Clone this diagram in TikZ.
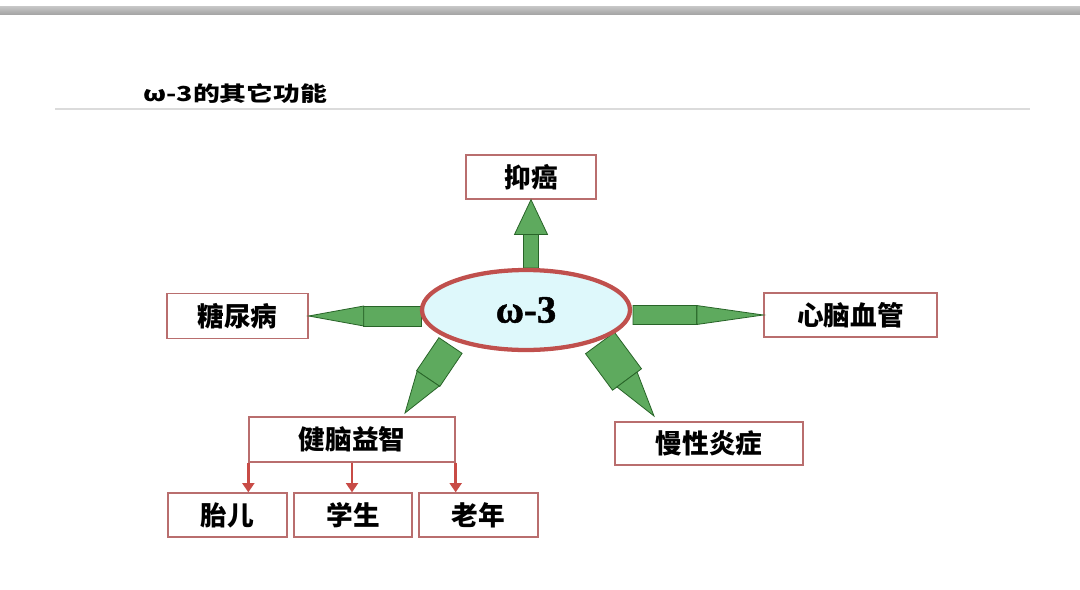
\documentclass[tikz,border=0pt]{standalone}
\usepackage{fontspec}
\setmainfont{Liberation Serif}
\newfontfamily\cjk{Noto Sans CJK SC}
\newfontfamily\titlefont[FakeStretch=1.3]{Noto Sans CJK SC}
\newfontfamily\serifb[BoldFeatures={FakeBold=1.2}]{Liberation Serif}
\usetikzlibrary{shapes.geometric,arrows.meta,calc}
\definecolor{gfill}{RGB}{94,170,94}
\definecolor{gline}{RGB}{40,100,40}
\definecolor{ellfill}{RGB}{222,248,251}
\definecolor{ellline}{RGB}{192,80,77}
\definecolor{boxline}{RGB}{185,110,110}
\definecolor{redarr}{RGB}{200,75,70}
\tikzset{
  boxnode/.style={draw=boxline, line width=1pt, fill=white, inner sep=0pt,
    font=\cjk\bfseries\fontsize{20}{20}\selectfont},
  greenpart/.style={fill=gfill, draw=gline, line width=0.6pt, line join=miter},
  redconn/.style={draw=redarr, line width=1.8pt, -{Triangle[width=9pt,length=7pt]}}
}
% #1 start, #2 tip, #3 fraction of shaft, #4 shaft half width, #5 head half width
\newcommand{\garrow}[5]{%
  \path (#1) coordinate (gaS) (#2) coordinate (gaT) ($(gaS)!#3!(gaT)$) coordinate (gaM);
  \filldraw[greenpart] ($(gaS)!#4!90:(gaT)$) -- ($(gaM)!#4!90:(gaT)$)
     -- ($(gaM)!#4!-90:(gaT)$) -- ($(gaS)!#4!-90:(gaT)$) -- cycle;
  \filldraw[greenpart] ($(gaM)!#5!90:(gaT)$) -- (gaT) -- ($(gaM)!#5!-90:(gaT)$) -- cycle;
}
\begin{document}
\begin{tikzpicture}[x=0.75pt, y=-0.75pt]
\useasboundingbox (0,0) rectangle (1080,589);
\fill[white] (0,0) rectangle (1080,589);
% top bar
\shade[top color=gray!45, bottom color=gray!70] (0,6.5) rectangle (1080,14);
% title
\node[anchor=west, inner sep=0pt, font=\titlefont\bfseries\fontsize{15.5}{15.5}\selectfont] (title) at (143,94) {ω-3的其它功能};
\draw[gray!28, line width=1.5pt] (55,109) coordinate (ulA) -- (1030,109) coordinate (ulB);

% boxes
\node[boxnode, minimum width=97.5pt, minimum height=33pt] (yiai) at (531,177) {抑癌};
\node[boxnode, minimum width=105.75pt, minimum height=33.75pt] (tnb) at (237.5,316) {糖尿病};
\node[boxnode, minimum width=129.75pt, minimum height=33pt] (xnxg) at (850.5,315) {心脑血管};
\node[boxnode, minimum width=141pt, minimum height=32.25pt] (mxyz) at (709,443.5) {慢性炎症};
\node[boxnode, minimum width=154.5pt, minimum height=33.75pt] (jnyz) at (352,439.5) {健脑益智};
\node[boxnode, minimum width=89.25pt, minimum height=33pt] (taier) at (227.5,515) {胎儿};
\node[boxnode, minimum width=88.5pt, minimum height=33pt] (xuesheng) at (353,515) {学生};
\node[boxnode, minimum width=89.25pt, minimum height=33pt] (laonian) at (478.5,515) {老年};

% ellipse geometry (drawn later, name needed for anchors)
\path node[ellipse, minimum width=156pt, minimum height=60pt, line width=3pt, inner sep=0pt] (omega) at (527,310) {};

% green block arrows
\coordinate (llS) at (450.5,345.5);
\coordinate (llT) at (405,413);
\coordinate (lrS) at (600,343);
\coordinate (lrT) at (654,416);
\garrow{yiai.south |- omega.north}{yiai.south}{0.49}{5.6pt}{12.4pt}
\garrow{tnb.east -| omega.west}{tnb.east}{0.51}{7.5pt}{7.5pt}
\garrow{xnxg.west -| omega.east}{xnxg.west}{0.49}{7.1pt}{7.1pt}
\garrow{llS}{llT}{0.49}{10.5pt}{10pt}
\garrow{lrS}{lrT}{0.5}{13.5pt}{9.4pt}

% ellipse on top
\node[ellipse, draw=ellline, fill=ellfill, minimum width=156pt, minimum height=60pt, line width=3.2pt, inner sep=0pt,
  font=\serifb\bfseries\fontsize{29}{29}\selectfont] (omegaDraw) at (526,310) {ω-3};

% red connectors
\draw[redconn] (jnyz.south west) -- (jnyz.south west |- taier.north);
\draw[redconn] (jnyz.south) -- (jnyz.south |- xuesheng.north);
\draw[redconn] (jnyz.south east) -- (jnyz.south east |- laonian.north);
\end{tikzpicture}
\end{document}
